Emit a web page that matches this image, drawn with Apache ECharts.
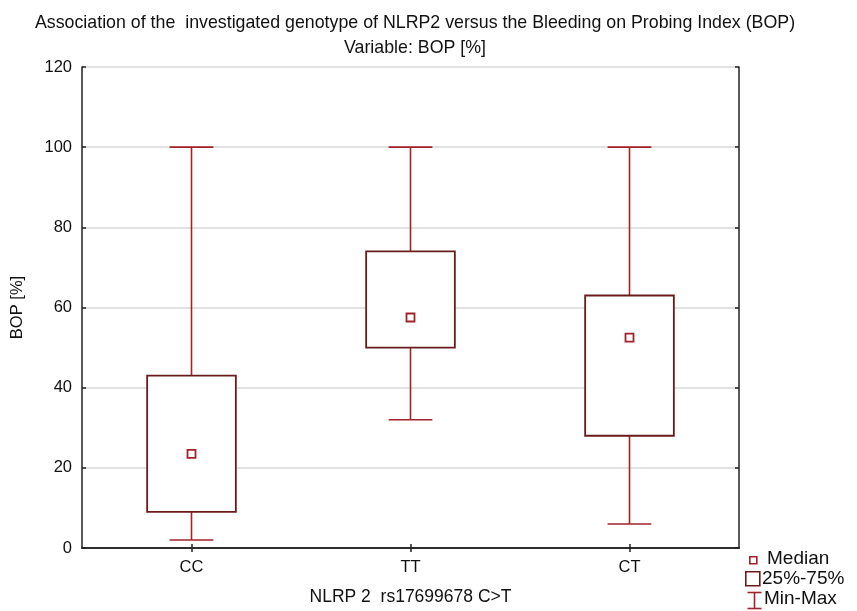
<!DOCTYPE html>
<html>
<head>
<meta charset="utf-8">
<script src="https://cdn.jsdelivr.net/npm/echarts@6/dist/echarts.min.js"></script>
<style>html,body{margin:0;padding:0;background:#fff;}#c{width:857px;height:611px;}</style>
</head>
<body>
<div id="c"></div>
<script>
var categories = ['CC', 'TT', 'CT'];
var minValues = [2, 32, 6];
var q1Values = [9, 50, 28];
var medianValues = [23.5, 57.5, 52.5];
var q3Values = [43, 74, 63];
var maxValues = [100, 100, 100];
var yTicks = [0, 20, 40, 60, 80, 100, 120];

var FONT = 'Liberation Sans, Arial, sans-serif';
var BOX_COLOR = '#6a1c1c';
var WHISKER_COLOR = '#a3222a';

var data = categories.map(function (c, i) {
  return [i, minValues[i], q1Values[i], medianValues[i], q3Values[i], maxValues[i]];
});

var chart = echarts.init(document.getElementById('c'), null, {renderer: 'canvas'});

function renderItem(params, api) {
  var idx = api.value(0);
  var pMin = api.coord([idx, api.value(1)]);
  var pQ1 = api.coord([idx, api.value(2)]);
  var pMed = api.coord([idx, api.value(3)]);
  var pQ3 = api.coord([idx, api.value(4)]);
  var pMax = api.coord([idx, api.value(5)]);
  var band = api.size([1, 0])[0];
  var boxW = band * 0.405;
  var capW = band * 0.2;
  var x = pMin[0];
  return {
    type: 'group',
    children: [
      {type: 'line', shape: {x1: x, y1: pMin[1], x2: x, y2: pMax[1]}, style: {stroke: WHISKER_COLOR, lineWidth: 1.6}},
      {type: 'line', shape: {x1: x - capW / 2, y1: pMin[1], x2: x + capW / 2, y2: pMin[1]}, style: {stroke: WHISKER_COLOR, lineWidth: 1.6}},
      {type: 'line', shape: {x1: x - capW / 2, y1: pMax[1], x2: x + capW / 2, y2: pMax[1]}, style: {stroke: WHISKER_COLOR, lineWidth: 1.6}},
      {type: 'rect', shape: {x: x - boxW / 2, y: pQ3[1], width: boxW, height: pQ1[1] - pQ3[1]}, style: {fill: '#fff', stroke: BOX_COLOR, lineWidth: 1.8}},
      {type: 'rect', shape: {x: x - 4, y: pMed[1] - 4, width: 8, height: 8}, style: {fill: '#fff', stroke: WHISKER_COLOR, lineWidth: 1.8}}
    ]
  };
}

var option = {
  backgroundColor: '#fff',
  animation: false,
  title: {
    text: 'Association of the  investigated genotype of NLRP2 versus the Bleeding on Probing Index (BOP)\nVariable: BOP [%]',
    left: 410,
    textAlign: 'center',
    top: 6,
    textStyle: {fontFamily: FONT, fontSize: 17.8, fontWeight: 'normal', color: '#111', lineHeight: 25}
  },
  grid: {left: 82, right: 118, top: 67, bottom: 62, show: false},
  xAxis: [{
    type: 'category',
    data: categories,
    boundaryGap: true,
    position: 'bottom',
    name: 'NLRP 2  rs17699678 C>T',
    nameLocation: 'middle',
    nameGap: 40,
    nameTextStyle: {fontFamily: FONT, fontSize: 17.5, color: '#111'},
    axisLine: {show: true, lineStyle: {color: '#222', width: 1.5}},
    axisTick: {show: true, inside: true, alignWithLabel: true, length: 4, lineStyle: {color: '#222', width: 1.5}},
    axisLabel: {fontFamily: FONT, fontSize: 16.5, color: '#111', margin: 11},
    splitLine: {show: false}
  }, {
    type: 'category',
    data: categories,
    boundaryGap: true,
    position: 'top',
    axisLine: {show: true, lineStyle: {color: '#222', width: 1.5}},
    axisTick: {show: true, inside: true, alignWithLabel: true, length: 4, lineStyle: {color: '#222', width: 1.5}},
    axisLabel: {show: false},
    splitLine: {show: false}
  }],
  yAxis: [{
    type: 'value',
    min: yTicks[0],
    max: yTicks[yTicks.length - 1],
    interval: 20,
    position: 'left',
    name: 'BOP [%]',
    nameLocation: 'middle',
    nameGap: 56,
    nameRotate: 90,
    nameTextStyle: {fontFamily: FONT, fontSize: 16.5, color: '#111'},
    axisLine: {show: true, lineStyle: {color: '#222', width: 1.5}},
    axisTick: {show: true, inside: true, length: 4, lineStyle: {color: '#222', width: 1.5}},
    axisLabel: {fontFamily: FONT, fontSize: 16.5, color: '#111', margin: 10},
    splitLine: {show: true, lineStyle: {color: '#d9d9d9', width: 1.5}}
  }, {
    type: 'value',
    min: yTicks[0],
    max: yTicks[yTicks.length - 1],
    interval: 20,
    position: 'right',
    axisLine: {show: true, lineStyle: {color: '#222', width: 1.5}},
    axisTick: {show: true, inside: true, length: 4, lineStyle: {color: '#222', width: 1.5}},
    axisLabel: {show: false},
    splitLine: {show: false}
  }],
  series: [{
    type: 'custom',
    name: 'BOP',
    xAxisIndex: 0,
    yAxisIndex: 0,
    renderItem: renderItem,
    encode: {x: 0, y: [1, 2, 3, 4, 5]},
    data: data,
    z: 10
  }],
  graphic: [
    {type: 'rect', left: 749, top: 556, shape: {width: 7, height: 7}, style: {fill: '#fff', stroke: WHISKER_COLOR, lineWidth: 1.6}},
    {type: 'text', left: 767, top: 549, style: {text: 'Median', font: '19px ' + FONT, fill: '#111'}},
    {type: 'rect', left: 745, top: 571, shape: {width: 14, height: 14}, style: {fill: '#fff', stroke: BOX_COLOR, lineWidth: 1.6}},
    {type: 'text', left: 762, top: 569, style: {text: '25%-75%', font: '19px ' + FONT, fill: '#111'}},
    {type: 'group', left: 745, top: 590, children: [
      {type: 'line', shape: {x1: 0, y1: 0, x2: 14, y2: 0}, style: {stroke: WHISKER_COLOR, lineWidth: 1.6}},
      {type: 'line', shape: {x1: 7, y1: 0, x2: 7, y2: 16}, style: {stroke: WHISKER_COLOR, lineWidth: 1.6}},
      {type: 'line', shape: {x1: 0, y1: 16, x2: 14, y2: 16}, style: {stroke: WHISKER_COLOR, lineWidth: 1.6}}
    ]},
    {type: 'text', left: 764, top: 589, style: {text: 'Min-Max', font: '19px ' + FONT, fill: '#111'}}
  ]
};
chart.setOption(option);
</script>
</body>
</html>
